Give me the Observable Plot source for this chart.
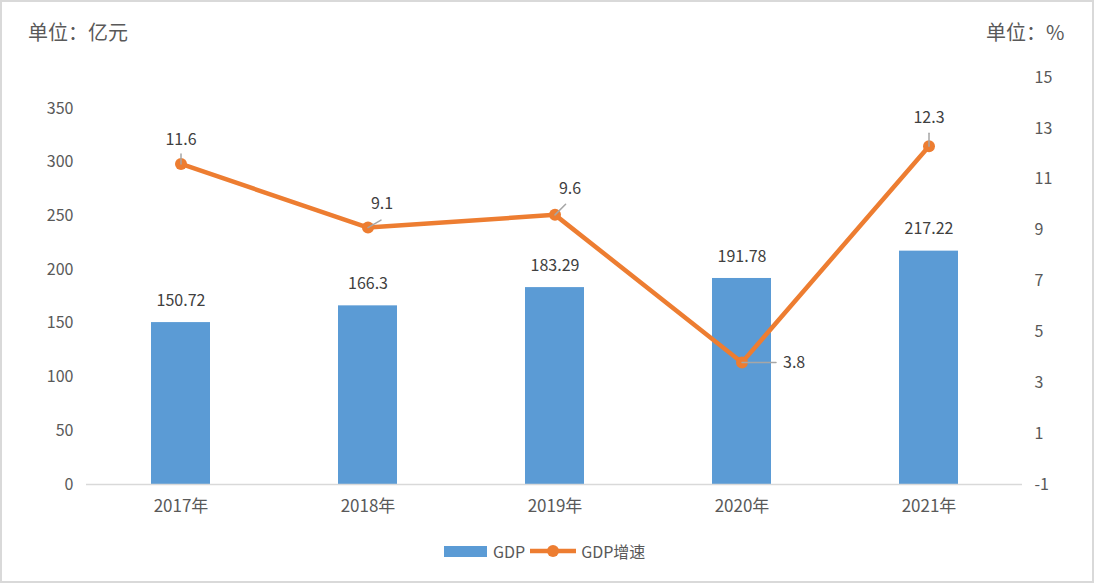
<!DOCTYPE html>
<html>
<head>
<meta charset="utf-8">
<script src="https://cdn.jsdelivr.net/npm/d3@7"></script>
<script src="https://cdn.jsdelivr.net/npm/@observablehq/plot@0.6"></script>
<style>
  body { margin: 0; background: #fff; }
  #wrap { position: relative; width: 1094px; height: 583px; overflow: hidden; font-family: "Noto Sans CJK SC", "Noto Sans", sans-serif; color: #595959; }
  #border { position: absolute; left: 0; top: 0; width: 1094px; height: 583px; box-sizing: border-box; border: 2px solid #d9d9d9; pointer-events: none; }
  .unit { position: absolute; font-size: 20px; line-height: 1; top: 22px; }
  #legend { position: absolute; top: 541px; left: 444px; display: flex; align-items: center; font-size: 16px; height: 20px; }
  #chart svg { display: block; }
</style>
</head>
<body>
<div id="wrap">
  <div id="chart"></div>
  <div class="unit" style="left:28px;">单位：亿元</div>
  <div class="unit" style="left:986px;">单位：%</div>
  <div id="legend">
    <span style="display:inline-block;width:43px;height:11px;background:#5b9bd5;"></span>
    <span style="margin-left:6px;">GDP</span>
    <svg width="46" height="14" style="margin-left:5px;"><line x1="0" y1="7" x2="46" y2="7" stroke="#ed7d31" stroke-width="4.5"/><circle cx="23" cy="7" r="6" fill="#ed7d31"/></svg>
    <span style="margin-left:5px;">GDP增速</span>
  </div>
  <div id="border"></div>
</div>
<script>
const years = ["2017年", "2018年", "2019年", "2020年", "2021年"];
const gdp = [150.72, 166.3, 183.29, 191.78, 217.22];
const growth = [11.6, 9.1, 9.6, 3.8, 12.3];
const leftTicks = [0, 50, 100, 150, 200, 250, 300, 350];
const rightTicks = [-1, 1, 3, 5, 7, 9, 11, 13, 15];

// scale layout
const YMAX = 378.86;        // left axis value at top of plot area
const G_MIN = -1, G_MAX = 15;
const g2y = g => (g - G_MIN) / (G_MAX - G_MIN) * YMAX;
const y2g = y => y / YMAX * (G_MAX - G_MIN) + G_MIN;

const rows = years.map((year, i) => ({year, gdp: gdp[i], growth: growth[i], gy: g2y(growth[i])}));

// label placement (style)
const labelStyle = [
  {dx: 0, dy: -24, anchor: "middle", len: 10, rot: 0},
  {dx: 14, dy: -24, anchor: "middle", len: 15, rot: 60},
  {dx: 15, dy: -26, anchor: "middle", len: 15, rot: 45},
  {dx: 41, dy: 0, anchor: "start", len: 34, rot: 90},
  {dx: 0, dy: -28, anchor: "middle", len: 13, rot: 0}
];

const lineShape = { draw(context, l) { context.moveTo(0, 0); context.lineTo(0, -l); } };

const font = "\"Noto Sans CJK SC\", \"Noto Sans\", sans-serif";

const marks = [
  Plot.barY(rows, {x: "year", y: "gdp", fill: "#5b9bd5"}),
  Plot.ruleY([0], {stroke: "#d9d9d9", strokeWidth: 1.5}),
  Plot.axisY(leftTicks, {anchor: "left", tickSize: 0, tickPadding: 13, fontSize: 16, fill: "#595959", label: null}),
  Plot.axisY(rightTicks.map(g2y), {anchor: "right", tickSize: 0, tickPadding: 12, fontSize: 16, fill: "#595959", textAnchor: "start", label: null, tickFormat: d => String(Math.round(y2g(d)))}),
  Plot.axisX({tickSize: 0, tickPadding: 15, fontSize: 17, fill: "#595959", label: null}),
  Plot.text(rows, {x: "year", y: "gdp", text: d => String(d.gdp), dy: -22, fontSize: 16, fill: "#404040"}),
  Plot.line(rows, {x: "year", y: "gy", stroke: "#ed7d31", strokeWidth: 4.5}),
  Plot.dot(rows, {x: "year", y: "gy", r: 6, fill: "#ed7d31"})
];

rows.forEach((r, i) => {
  const s = labelStyle[i];
  marks.push(Plot.vector([r], {x: "year", y: "gy", length: s.len, rotate: s.rot, anchor: "start", stroke: "#a6a6a6", strokeWidth: 1.5, shape: lineShape}));
  marks.push(Plot.text([r], {x: "year", y: "gy", text: d => String(d.growth), dx: s.dx, dy: s.dy, textAnchor: s.anchor, fontSize: 16, fill: "#404040"}));
});

const chart = Plot.plot({
  width: 1094,
  height: 583,
  marginTop: 77,
  marginBottom: 99,
  marginLeft: 86,
  marginRight: 72,
  style: {fontFamily: font, fontSize: "16px", color: "#595959", background: "#fff"},
  x: {type: "band", domain: years, paddingInner: 0.685, paddingOuter: 0.3425, axis: null},
  y: {domain: [0, YMAX], axis: null},
  marks
});
document.getElementById("chart").appendChild(chart);
</script>
</body>
</html>
